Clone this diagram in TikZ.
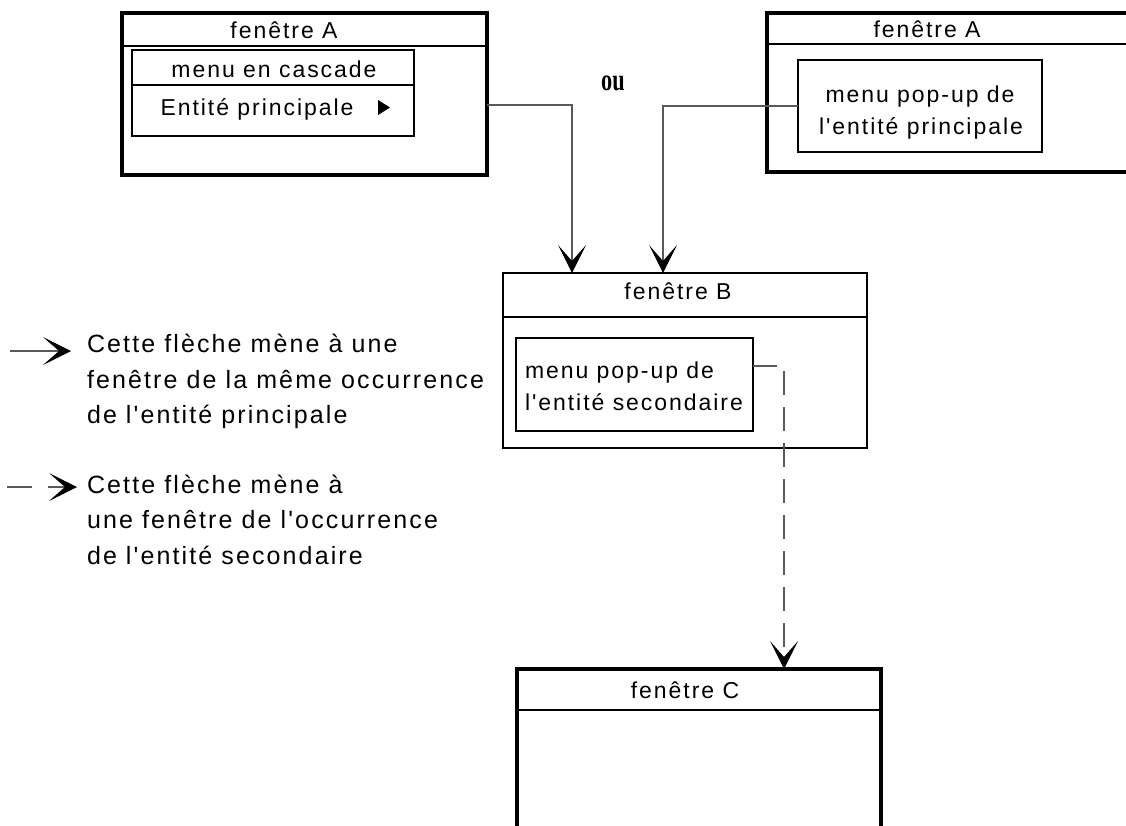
\documentclass[tikz,border=0pt]{standalone}
\usepackage{fontspec}
\setmainfont{Liberation Sans}[LetterSpace=8.5,Ligatures=TeXOff]
\newfontfamily\oufont{Liberation Serif}[FakeStretch=0.72]
\usetikzlibrary{arrows.meta}
\begin{document}
\begin{tikzpicture}[x=1pt,y=-1pt,
  every node/.style={inner sep=0pt,outer sep=0pt},
  txt/.style={font=\fontsize{23}{35.5}\selectfont},
  legtxt/.style={font=\fontsize{25}{35.5}\selectfont},
  winthick/.style={draw,line width=4pt,anchor=north west},
  winthin/.style={draw,line width=2.5pt,anchor=north west},
  inbox/.style={draw,line width=2.5pt,anchor=north west},
  sep/.style={line width=2pt},
  conn/.style={draw=black!65,line width=1.1pt,-{Stealth[length=28pt,width=28pt,inset=16pt,black]}},
  dconn/.style={conn,dash pattern=on 24pt off 12pt}
]
\clip (0,0) rectangle (1126,825);
\useasboundingbox (0,0) rectangle (1126,825);
\fill[white] (0,0) rectangle (1126,825);

% ---------- window A (cascade) ----------
\node[winthick,minimum width=365pt,minimum height=162pt] (A1) at (122,13) {};
\draw[sep] (A1.west |- 0,46) -- (A1.east |- 0,46);
\node[txt,anchor=base] (A1t) at (284,38) {fenêtre A};
\node[inbox,minimum width=282pt,minimum height=86pt] (A1m) at (132,50) {};
\draw[sep] (A1m.west |- 0,85) -- (A1m.east |- 0,85);
\node[txt,anchor=base] (A1m1) at (274,77) {menu en cascade};
\node[txt,anchor=base] (A1m2) at (257,115) {Entité principale};
\fill (378,100) -- (390,107.5) -- (378,115) -- cycle;

% ---------- window A (pop-up) ----------
\node[winthick,minimum width=380pt,minimum height=159pt] (A2) at (767,13) {};
\draw[sep] (A2.west |- 0,44) -- (A2.east |- 0,44);
\node[txt,anchor=base] (A2t) at (927,37) {fenêtre A};
\node[inbox,minimum width=244pt,minimum height=92pt] (A2p) at (798,60) {};
\node[txt,anchor=base] (A2p1) at (920,102) {menu pop-up de};
\node[txt,anchor=base] (A2p2) at (921,134) {l'entité principale};

% ---------- ou ----------
\node[font=\oufont\bfseries\fontsize{31}{32}\selectfont,anchor=base] (ou) at (613,90) {ou};

% ---------- window B ----------
\node[winthin,minimum width=364pt,minimum height=175pt] (B) at (503,273) {};
\draw[sep] (B.west |- 0,317) -- (B.east |- 0,317);
\node[txt,anchor=base] (Bt) at (678,299) {fenêtre B};
\node[inbox,minimum width=237pt,minimum height=93pt] (Bp) at (516,338) {};
\node[txt,anchor=base west] (Bp1) at (525,378) {menu pop-up de};
\node[txt,anchor=base west] (Bp2) at (525,410) {l'entité secondaire};

% ---------- window C ----------
\node[winthick,minimum width=364pt,minimum height=170pt] (C) at (517,669) {};
\draw[sep] (C.west |- 0,710) -- (C.east |- 0,710);
\node[txt,anchor=base] (Ct) at (685,698) {fenêtre C};

% ---------- connectors ----------
\draw[conn] (A1.east |- 0,105) -| (572,0 |- B.north);
\draw[conn] (A2p.west) -| (663,0 |- B.north);
\draw[dconn] (Bp.east |- 0,366) -| (784,0 |- C.north);

% ---------- legend ----------
\coordinate (l1s) at (10,351);
\coordinate (l1e) at (71,351);
\draw[conn] (l1s) -- (l1e);
\node[legtxt,anchor=base west] (L1a) at (87,352) {Cette flèche mène à une};
\node[legtxt,anchor=base west] (L1b) at (87,388) {fenêtre de la même occurrence};
\node[legtxt,anchor=base west] (L1c) at (87,423) {de l'entité principale};

\coordinate (l2s) at (7,487);
\coordinate (l2e) at (77,487);
\draw[conn,dash pattern=on 25pt off 16pt] (l2s) -- (l2e);
\node[legtxt,anchor=base west] (L2a) at (87,493) {Cette flèche mène à};
\node[legtxt,anchor=base west] (L2b) at (87,528) {une fenêtre de l'occurrence};
\node[legtxt,anchor=base west] (L2c) at (87,564) {de l'entité secondaire};
\end{tikzpicture}
\end{document}
